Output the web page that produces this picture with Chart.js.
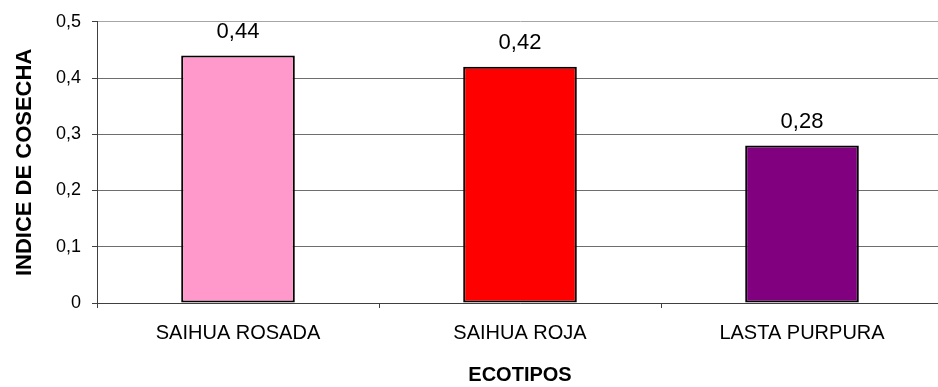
<!DOCTYPE html>
<html>
<head>
<meta charset="utf-8">
<script src="https://cdn.jsdelivr.net/npm/chart.js@4/dist/chart.umd.min.js"></script>
<style>
  html, body { margin: 0; padding: 0; background: #ffffff; }
  #wrap { width: 938px; height: 387px; overflow: hidden; }
  #c { display: block; }
</style>
</head>
<body>
<div id="wrap"><canvas id="c" width="943" height="387"></canvas></div>
<script>
// Índice de cosecha por ecotipo
const ecotipos = ['SAIHUA ROSADA', 'SAIHUA ROJA', 'LASTA PURPURA'];
const indiceCosecha = [0.44, 0.42, 0.28];
const coloresBarra = ['#FF99CC', '#FF0000', '#800080'];
const yTicks = [0, 0.1, 0.2, 0.3, 0.4, 0.5];

const FONT = '"Liberation Sans", Arial, sans-serif';

function coma(v, dec) {
  if (v === 0) return '0';
  return v.toFixed(dec).replace('.', ',');
}

// Value labels above each bar
const etiquetas = {
  id: 'etiquetas',
  afterDatasetsDraw(chart) {
    const ctx = chart.ctx;
    const meta = chart.getDatasetMeta(0);
    ctx.save();
    ctx.font = '22px ' + FONT;
    ctx.fillStyle = '#000000';
    ctx.textAlign = 'center';
    ctx.textBaseline = 'alphabetic';
    meta.data.forEach((bar, i) => {
      ctx.fillText(coma(indiceCosecha[i], 2), bar.x, bar.y - 18);
    });
    ctx.restore();
  }
};

new Chart(document.getElementById('c'), {
  type: 'bar',
  data: {
    labels: ecotipos,
    datasets: [{
      data: indiceCosecha,
      backgroundColor: coloresBarra,
      borderColor: '#000000',
      borderWidth: 2,
      borderSkipped: false,
      categoryPercentage: 0.403,
      barPercentage: 1.0
    }]
  },
  options: {
    responsive: false,
    devicePixelRatio: 1,
    animation: false,
    layout: { padding: { top: 21, right: 0, left: 0, bottom: 0 } },
    plugins: {
      legend: { display: false },
      tooltip: { enabled: false }
    },
    scales: {
      x: {
        offset: true,
        afterFit(scale) { scale.height = 84; },
        grid: {
          offset: true,
          drawOnChartArea: false,
          drawTicks: true,
          tickLength: 5,
          color: '#404040'
        },
        border: { color: '#404040', width: 1 },
        ticks: {
          color: '#000000',
          padding: 13,
          maxRotation: 0,
          autoSkip: false,
          font: { family: FONT, size: 20 }
        },
        title: {
          display: true,
          text: 'ECOTIPOS',
          color: '#000000',
          padding: { top: 0, bottom: 0 },
          font: { family: FONT, size: 20, weight: 'bold' }
        }
      },
      y: {
        min: 0,
        max: 0.5,
        afterFit(scale) { scale.width = 97; },
        afterBuildTicks(scale) { scale.ticks = yTicks.map(v => ({ value: v })); },
        grid: {
          color: ctx => (ctx.tick && ctx.tick.value === 0.5) ? '#a6a6a6' : '#6e6e6e',
          tickColor: '#404040',
          tickLength: 5,
          lineWidth: 1
        },
        border: { color: '#404040', width: 1 },
        ticks: {
          color: '#000000',
          padding: 11,
          font: { family: FONT, size: 18 },
          callback: v => coma(v, 1)
        },
        title: {
          display: true,
          text: 'INDICE DE COSECHA',
          color: '#000000',
          padding: { top: 12, bottom: 0 },
          font: { family: FONT, size: 22, weight: 'bold' }
        }
      }
    }
  },
  plugins: [etiquetas]
});
</script>
</body>
</html>
